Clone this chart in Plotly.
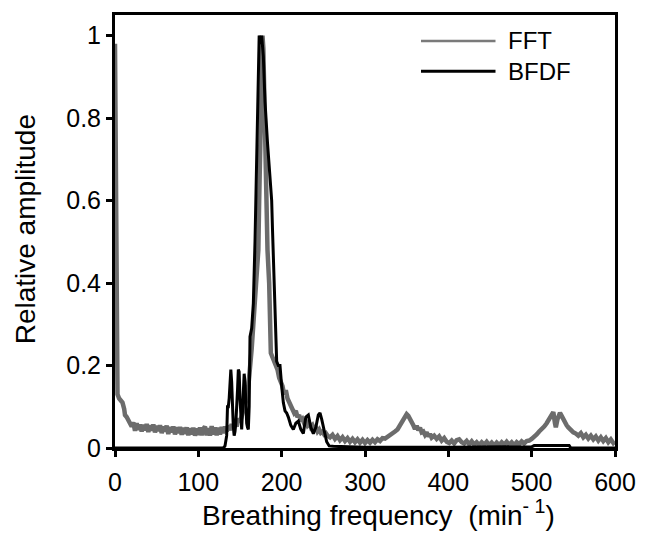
import plotly.graph_objects as go

# FFT spectrum (grey)
fft_freq = [0, 1, 2, 3, 5, 7, 9, 11, 12, 14, 16, 18, 20, 22, 24, 26, 28, 30, 32, 34, 36, 38, 40, 42, 44, 46, 48, 50,
            52, 54, 56, 58, 60, 62, 64, 66, 68, 70, 72, 74, 76, 78, 80, 82, 84, 86, 88, 90, 92, 94, 96, 98, 100,
            102, 104, 106, 108, 110, 112, 114, 116, 118, 120, 122, 124, 126, 128, 130, 132, 134, 136, 138, 140,
            142, 144, 146, 148, 150, 152, 154, 156, 158, 160, 162, 164, 166, 168, 170, 172, 173, 174, 175, 176,
            177, 178, 179, 180, 181, 183, 185, 186, 187, 189, 191, 193, 195, 197, 199, 201, 203, 205, 207, 209,
            211, 213, 215, 217, 219, 221, 223, 225, 227, 229, 231, 233, 235, 237, 239, 241, 243, 245, 247, 249,
            251, 253, 255, 258, 261, 264, 267, 270, 273, 276, 279, 282, 285, 288, 291, 294, 297, 300, 303, 306,
            309, 312, 315, 318, 321, 324, 327, 330, 333, 336, 339, 342, 345, 348, 350, 352, 354, 356, 358, 360,
            362, 364, 366, 368, 370, 372, 374, 376, 378, 380, 383, 386, 389, 392, 395, 398, 401, 404, 407, 410,
            413, 416, 419, 422, 425, 428, 431, 434, 437, 440, 443, 446, 449, 452, 455, 458, 461, 464, 467, 470,
            473, 476, 479, 482, 485, 488, 491, 494, 497, 500, 503, 506, 509, 512, 515, 518, 521, 524, 526, 528,
            529, 531, 534, 536, 538, 540, 542, 544, 546, 548, 550, 553, 556, 559, 562, 565, 568, 571, 574, 577,
            580, 583, 586, 589, 592, 595, 598, 600]
fft_amp = [0.98, 0.6, 0.2, 0.13, 0.12, 0.115, 0.11, 0.095, 0.08, 0.075, 0.068, 0.06, 0.052, 0.062, 0.042, 0.06,
           0.044, 0.057, 0.04, 0.056, 0.043, 0.058, 0.039, 0.055, 0.042, 0.057, 0.038, 0.054, 0.041, 0.055, 0.036,
           0.052, 0.04, 0.054, 0.034, 0.051, 0.038, 0.052, 0.033, 0.05, 0.036, 0.051, 0.032, 0.049, 0.034, 0.05,
           0.031, 0.048, 0.033, 0.049, 0.03, 0.047, 0.032, 0.05, 0.031, 0.046, 0.052, 0.031, 0.048, 0.03, 0.053,
           0.033, 0.05, 0.031, 0.049, 0.033, 0.051, 0.036, 0.052, 0.04, 0.055, 0.043, 0.058, 0.048, 0.064, 0.052,
           0.072, 0.062, 0.078, 0.085, 0.1, 0.12, 0.15, 0.19, 0.24, 0.3, 0.36, 0.42, 0.48, 0.6, 0.75, 0.9, 0.98,
           1.0, 0.97, 0.85, 0.68, 0.56, 0.48, 0.4, 0.3, 0.23, 0.22, 0.21, 0.2, 0.19, 0.17, 0.16, 0.15, 0.13, 0.14,
           0.12, 0.11, 0.1, 0.095, 0.085, 0.09, 0.075, 0.08, 0.065, 0.07, 0.06, 0.065, 0.055, 0.06, 0.05, 0.055,
           0.045, 0.05, 0.04, 0.045, 0.037, 0.04, 0.033, 0.036, 0.03, 0.026, 0.032, 0.022, 0.029, 0.019, 0.026,
           0.017, 0.024, 0.015, 0.022, 0.014, 0.021, 0.013, 0.02, 0.012, 0.019, 0.013, 0.02, 0.014, 0.021, 0.017,
           0.024, 0.023, 0.027, 0.03, 0.033, 0.04, 0.045, 0.055, 0.065, 0.075, 0.082, 0.078, 0.068, 0.06, 0.055,
           0.046, 0.054, 0.043, 0.049, 0.038, 0.04, 0.032, 0.038, 0.028, 0.034, 0.025, 0.03, 0.022, 0.028, 0.018,
           0.024, 0.015, 0.012, 0.018, 0.011, 0.019, 0.021, 0.014, 0.011, 0.017, 0.009, 0.016, 0.008, 0.014, 0.007,
           0.014, 0.008, 0.015, 0.007, 0.013, 0.006, 0.013, 0.007, 0.014, 0.008, 0.015, 0.008, 0.014, 0.007, 0.014,
           0.009, 0.016, 0.011, 0.017, 0.018, 0.022, 0.026, 0.033, 0.04, 0.045, 0.052, 0.06, 0.07, 0.08, 0.087,
           0.06, 0.05, 0.07, 0.085, 0.078, 0.068, 0.06, 0.055, 0.05, 0.045, 0.04, 0.038, 0.035, 0.03, 0.036,
           0.026, 0.032, 0.023, 0.03, 0.021, 0.028, 0.018, 0.026, 0.017, 0.024, 0.014, 0.021, 0.012, 0.016]

# BFDF spectrum (black)
bfdf_freq = [0, 130, 132, 134, 135, 136, 137, 138, 139, 140, 141, 142, 143, 144, 145, 146, 147, 148, 149, 150, 151,
             152, 153, 154, 155, 156, 157, 158, 159, 160, 161, 162, 164, 166, 168, 170, 172, 173, 175, 176, 178,
             180, 183, 186, 188, 189, 191, 193, 194, 196, 198, 200, 202, 204, 206, 208, 211, 214, 217, 220, 223,
             226, 229, 232, 235, 238, 241, 244, 246, 248, 250, 252, 254, 257, 262, 280, 300, 400, 500, 503, 545,
             547, 600]
bfdf_amp = [0.0, 0.0, 0.005, 0.03, 0.1, 0.1, 0.12, 0.16, 0.19, 0.16, 0.08, 0.05, 0.03, 0.04, 0.06, 0.09, 0.14,
            0.19, 0.185, 0.12, 0.06, 0.045, 0.09, 0.16, 0.18, 0.16, 0.1, 0.06, 0.05, 0.045, 0.1, 0.27, 0.29, 0.35,
            0.5, 0.7, 0.92, 1.0, 0.98, 1.0, 0.95, 0.84, 0.74, 0.66, 0.6, 0.53, 0.42, 0.3, 0.21, 0.2, 0.2, 0.15,
            0.11, 0.09, 0.085, 0.075, 0.055, 0.045, 0.06, 0.065, 0.045, 0.035, 0.075, 0.08, 0.05, 0.035, 0.05,
            0.08, 0.085, 0.07, 0.05, 0.035, 0.015, 0.005, 0.004, 0.003, 0.002, 0.002, 0.003, 0.006, 0.006, 0.0, 0.0]

x_ticks = [0, 100, 200, 300, 400, 500, 600]
y_ticks = [0, 0.2, 0.4, 0.6, 0.8, 1]
series_names = ["FFT", "BFDF"]
x_title = "Breathing frequency  (min<sup>- 1</sup>)"
y_title = "Relative amplitude"

FONT = "Liberation Sans, Arial, sans-serif"
GREY = "#6c6c6c"

fig = go.Figure()
fig.add_trace(go.Scatter(x=fft_freq, y=fft_amp, mode="lines", name=series_names[0],
                         line=dict(color=GREY, width=4.5), showlegend=False))
fig.add_trace(go.Scatter(x=bfdf_freq, y=bfdf_amp, mode="lines", name=series_names[1],
                         line=dict(color="black", width=3), showlegend=False))

# manual legend
leg = [(series_names[0], "#7a7a7a", 2.5, 0.94), (series_names[1], "black", 3, 0.87)]
for name, col, w, yp in leg:
    fig.add_shape(type="line", xref="paper", yref="paper", x0=0.612, x1=0.761, y0=yp, y1=yp,
                  line=dict(color=col, width=w))
    fig.add_annotation(xref="paper", yref="paper", x=0.782, y=yp, text=name, showarrow=False,
                       xanchor="left", yanchor="middle", font=dict(size=24, color="black", family=FONT))

# axis titles
fig.add_annotation(xref="paper", yref="paper", x=0.527, y=-0.149, text=x_title, showarrow=False,
                   xanchor="center", yanchor="middle", font=dict(size=28, color="black", family=FONT))
fig.add_annotation(xref="paper", yref="paper", x=-0.18, y=0.505, text=y_title, showarrow=False,
                   textangle=-90, xanchor="center", yanchor="middle",
                   font=dict(size=28, color="black", family=FONT))

fig.update_layout(
    width=648, height=535,
    margin=dict(l=115, r=23, t=14, b=87),
    paper_bgcolor="white", plot_bgcolor="white",
    font=dict(family=FONT, color="black"),
)
fig.update_xaxes(range=[0, 600], tickvals=x_ticks, showgrid=False, zeroline=False,
                 showline=True, linecolor="black", linewidth=3, mirror=True,
                 ticks="outside", ticklen=6, tickwidth=2.5, tickcolor="black",
                 tickfont=dict(size=25), ticklabelstandoff=4)
fig.update_yaxes(range=[0, 1.05], tickvals=y_ticks, showgrid=False, zeroline=False,
                 showline=True, linecolor="black", linewidth=3, mirror=True,
                 ticks="outside", ticklen=6, tickwidth=2.5, tickcolor="black",
                 tickfont=dict(size=25))

fig.write_html("out.html")
